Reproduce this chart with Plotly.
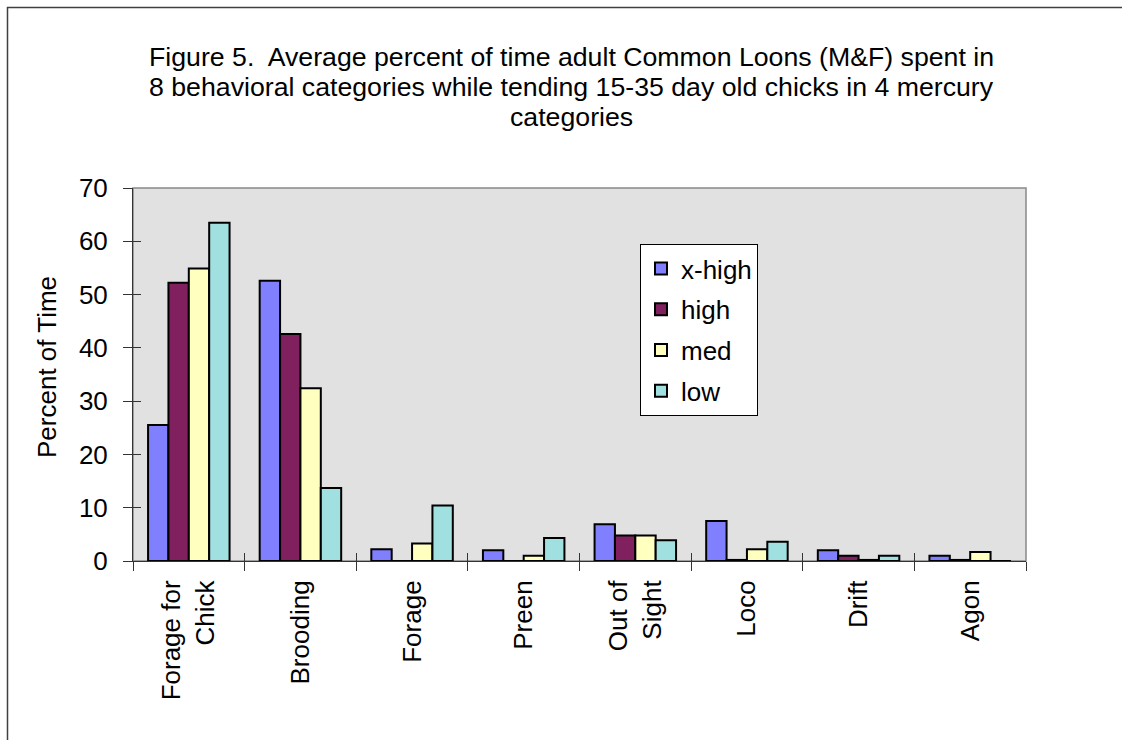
import plotly.graph_objects as go

categories = ["Forage for<br>Chick", "Brooding", "Forage", "Preen",
              "Out of<br>Sight", "Loco", "Drift", "Agon"]
x_high = [25.5, 52.6, 2.2, 2.0, 6.9, 7.5, 2.0, 1.0]
high = [52.2, 42.6, 0, 0, 4.8, 0.2, 1.0, 0.2]
med = [54.9, 32.4, 3.3, 1.0, 4.8, 2.2, 0.2, 1.7]
low = [63.5, 13.7, 10.4, 4.3, 3.9, 3.6, 1.0, 0]

series = [("x-high", x_high, "#8080FF"),
          ("high", high, "#80205F"),
          ("med", med, "#FFFFC0"),
          ("low", low, "#A0E0E0")]

title_lines = [
    "Figure 5.&nbsp; Average percent of time adult Common Loons (M&F) spent in",
    "8 behavioral categories while tending 15-35 day old chicks in 4 mercury",
    "categories",
]

W, H = 1122, 740
L, R, T, B = 133, 1026, 188, 561
pw, ph = R - L, B - T


def px_x(x):
    return (x - L) / pw


def px_y(y):
    return (B - y) / ph


fig = go.Figure()
for name, vals, color in series:
    fig.add_trace(go.Bar(
        x=categories, y=vals, name=name, legendgroup=name,
        marker=dict(color=color, line=dict(color="black", width=2)),
    ))

# invisible trace so the overlay tick axes get drawn
fig.add_trace(go.Scatter(x=[0], y=[0], xaxis="x2", yaxis="y2", mode="markers",
                         marker=dict(opacity=0), showlegend=False, hoverinfo="skip"))

font = "Arial, 'Liberation Sans', sans-serif"
fs = 26

annotations = []
for i, line in enumerate(title_lines):
    annotations.append(dict(
        text=line, xref="paper", yref="paper", x=px_x(571), y=px_y(57 + 30 * i),
        xanchor="center", yanchor="middle", showarrow=False, font=dict(size=26.7)))
annotations.append(dict(
    text="Percent of Time", textangle=-90,
    xref="paper", yref="paper", x=px_x(47), y=px_y(367),
    xanchor="center", yanchor="middle", showarrow=False, font=dict(size=fs)))

fig.update_layout(
    width=W, height=H,
    margin=dict(l=L, r=W - R, t=T, b=H - B, autoexpand=False),
    paper_bgcolor="white",
    plot_bgcolor="#E1E1E1",
    font=dict(family=font, size=fs, color="black"),
    barmode="group",
    bargap=0.27,
    bargroupgap=0,
    showlegend=True,
    legend=dict(
        x=px_x(640), y=px_y(244), xanchor="left", yanchor="top",
        bgcolor="white", bordercolor="black", borderwidth=1,
        font=dict(size=fs), tracegroupgap=4, itemwidth=30,
    ),
    xaxis=dict(
        type="category", tickangle=-90, tickson="boundaries",
        ticks="outside", ticklen=9, tickcolor="#333", ticklabelstandoff=8,
        showline=True, linecolor="#333", linewidth=1,
        showgrid=False, zeroline=False, automargin=False,
    ),
    xaxis2=dict(
        overlaying="x", range=[-0.5, 7.5], tickvals=[i - 0.5 for i in range(9)],
        ticks="inside", ticklen=8, tickcolor="#333", showticklabels=False,
        showline=False, showgrid=False, zeroline=False, side="bottom",
    ),
    yaxis=dict(
        range=[0, 70], dtick=10, ticks="outside", ticklen=9, tickcolor="#333",
        ticklabelstandoff=10,
        showline=True, linecolor="#333", linewidth=1,
        showgrid=False, zeroline=False, automargin=False,
    ),
    yaxis2=dict(
        overlaying="y", range=[0, 70], dtick=10, ticks="inside", ticklen=8,
        tickcolor="#333", showticklabels=False, showline=False,
        showgrid=False, zeroline=False, side="left",
    ),
    annotations=annotations,
    shapes=[
        dict(type="rect", xref="paper", yref="paper",
             x0=0, x1=1, y0=0, y1=1, line=dict(color="#888", width=1.5), layer="below"),
        dict(type="rect", xref="paper", yref="paper",
             x0=px_x(7.5), x1=px_x(1140), y0=px_y(760), y1=px_y(7.5),
             line=dict(color="#404040", width=1.5)),
    ],
)

fig.write_html("out.html", config={"displayModeBar": False},
               post_script="document.body.style.margin='0';")
